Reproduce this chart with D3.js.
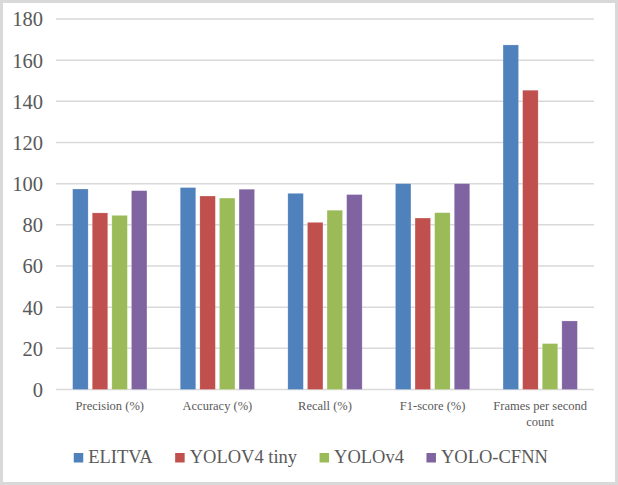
<!DOCTYPE html>
<html>
<head>
<meta charset="utf-8">
<script src="https://cdn.jsdelivr.net/npm/d3@7"></script>
<style>
html,body{margin:0;padding:0;background:#fff;}
svg{display:block;}
svg text{font-family:"Liberation Serif","Times New Roman",serif;}
</style>
</head>
<body>
<svg id="chart" width="618" height="485"></svg>
<script>
const categories = ["Precision (%)", "Accuracy (%)", "Recall (%)", "F1-score (%)", "Frames per second count"];
const seriesNames = ["ELITVA", "YOLOV4 tiny", "YOLOv4", "YOLO-CFNN"];
const elitva = [97.4, 98.1, 95.3, 100, 167.4];
const yolov4tiny = [85.8, 94.0, 81.2, 83.3, 145.4];
const yolov4 = [84.6, 93.0, 87.1, 85.9, 22.3];
const yoloCfnn = [96.6, 97.3, 94.7, 100, 33.3];
const yTicks = [0, 20, 40, 60, 80, 100, 120, 140, 160, 180];
const colors = ["#4F81BD", "#C0504D", "#9BBB59", "#8064A2"];

(function() {
const seriesValues = [elitva, yolov4tiny, yolov4, yoloCfnn];
const svg = d3.select("#chart");
const W = 618, H = 485;

// frame
svg.append("rect").attr("x", 1.5).attr("y", 1.5).attr("width", W - 3).attr("height", H - 3)
  .attr("fill", "#fff").attr("stroke", "#d9d9d9").attr("stroke-width", 3);

const pLeft = 56, pRight = 594, pTop = 19, pBottom = 389.5;
const x0 = d3.scaleBand().domain(categories).range([pLeft, pRight]).padding(0);
const gw = 74.3;
const x1 = d3.scaleBand().domain(seriesNames)
  .range([(x0.bandwidth() - gw) / 2, (x0.bandwidth() + gw) / 2])
  .paddingInner(0.21).paddingOuter(0);
const y = d3.scaleLinear().domain([0, 180]).range([pBottom, pTop]);

// gridlines
svg.append("g").selectAll("line").data(yTicks).join("line")
  .attr("x1", pLeft).attr("x2", pRight)
  .attr("y1", d => y(d)).attr("y2", d => y(d))
  .attr("stroke", "#d9d9d9").attr("stroke-width", 1.5);

// y tick labels
svg.append("g").selectAll("text").data(yTicks).join("text")
  .attr("x", 43).attr("y", d => y(d)).attr("dy", "0.36em")
  .attr("text-anchor", "end").attr("fill", "#595959").attr("font-size", 20.5)
  .text(d => d);

// bars
const groups = svg.append("g").selectAll("g").data(categories).join("g")
  .attr("transform", d => `translate(${x0(d)},0)`);
groups.selectAll("rect").data((c, i) => seriesNames.map((s, j) => ({s, v: seriesValues[j][i], j})))
  .join("rect")
  .attr("x", d => x1(d.s)).attr("width", x1.bandwidth())
  .attr("y", d => y(d.v)).attr("height", d => y(0) - y(d.v))
  .attr("fill", d => colors[d.j])
  .attr("stroke", "rgba(255,255,255,0.35)").attr("stroke-width", 0.6);

// category labels
const catLines = {"Frames per second count": ["Frames per second", "count"]};
svg.append("g").selectAll("text").data(categories).join("text")
  .attr("x", d => x0(d) + x0.bandwidth() / 2).attr("y", 410)
  .attr("text-anchor", "middle").attr("fill", "#595959").attr("font-size", 12.5)
  .each(function(d) {
    const lines = catLines[d] || [d];
    const t = d3.select(this);
    lines.forEach((l, i) => {
      t.append("tspan").attr("x", x0(d) + x0.bandwidth() / 2).attr("dy", i === 0 ? 0 : 15.6).text(l);
    });
  });

// legend
const lg = svg.append("g");
let cx = 0;
seriesNames.forEach((s, i) => {
  const g = lg.append("g");
  g.append("rect").attr("x", 0).attr("y", -10).attr("width", 9.5).attr("height", 9.5).attr("fill", colors[i]);
  const t = g.append("text").attr("x", 14.5).attr("y", 0).attr("font-size", 18.5).attr("fill", "#595959").text(s);
  const w = 14.5 + t.node().getComputedTextLength();
  g.attr("transform", `translate(${cx},0)`);
  cx += w + 22.5;
});
const totalW = cx - 22.5;
lg.attr("transform", `translate(${310.8 - totalW / 2},463)`);
})();
</script>
</body>
</html>
